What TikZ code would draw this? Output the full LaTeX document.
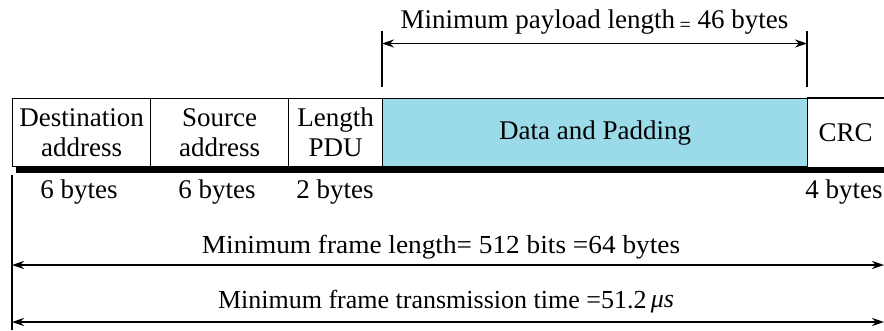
\documentclass[tikz,border=0pt]{standalone}
\usepackage{fontspec}
\setmainfont{Liberation Serif}
\usetikzlibrary{arrows.meta}
\definecolor{payload}{HTML}{9ADAE9}

\tikzset{
  label text/.style={font=\fontsize{27}{30}\selectfont, inner sep=0pt, align=center},
  field/.style={label text, draw, line width=1.3pt, anchor=north west, minimum height=68pt},
  dimline/.style={line width=1.2pt, {Stealth[length=12pt,width=8pt]}-{Stealth[length=12pt,width=8pt]}},
  tick/.style={line width=1.2pt},
}

\begin{document}
\begin{tikzpicture}[x=1pt,y=-1pt]
\useasboundingbox (0,0) rectangle (884,330);

% frame fields
\node[field, minimum width=138pt] (dest) at (12,98) {Destination\\address};
\node[field, minimum width=138pt] (src)  at (150,98) {Source\\address};
\node[field, minimum width=94pt]  (len)  at (288,98) {Length\\PDU};
\node[field, minimum width=425pt, fill=payload] (data) at (382,98) {Data and Padding};
\node[label text, anchor=north west, minimum width=77pt, minimum height=68pt] (crc) at (807,98) {CRC};
\draw[line width=1.3pt] (crc.north west) -- (crc.north east);

% heavy base line under the fields
\coordinate (barL) at (16,169.5);
\coordinate (barR) at (884,169.5);
\draw[line width=6pt] (barL) -- (barR);

% field sizes
\node[label text, anchor=base] (b1) at (79,198) {6 bytes};
\node[label text, anchor=base] (b2) at (217,198) {6 bytes};
\node[label text, anchor=base] (b3) at (335,198) {2 bytes};
\node[label text, anchor=base] (b4) at (844,198) {4 bytes};

% payload dimension
\coordinate (pTopL) at (382,31);
\coordinate (pBotL) at (382,87);
\coordinate (pTopR) at (807,31);
\coordinate (pBotR) at (807,87);
\draw[tick] (pTopL) -- (pBotL);
\draw[tick] (pTopR) -- (pBotR);
\coordinate (pL) at (382,43.5);
\coordinate (pR) at (807,43.5);
\draw[dimline] (pL) -- (pR);
\node[label text, anchor=base] (ptext) at (594.5,28) {Minimum payload length\,{\fontsize{20}{20}\selectfont\raisebox{-3pt}{=}} 46 bytes};

% frame dimensions
\coordinate (fTop) at (12,175);
\coordinate (fBot) at (12,330);
\draw[tick] (fTop) -- (fBot);
\coordinate (f1L) at (12,265);
\coordinate (f1R) at (884,265);
\draw[dimline] (f1L) -- (f1R);
\node[label text, anchor=base, font=\fontsize{26}{30}\selectfont, xscale=1.05] (ftext) at (441,253) {Minimum frame length= 512 bits =64 bytes};
\coordinate (f2L) at (12,322);
\coordinate (f2R) at (884,322);
\draw[dimline] (f2L) -- (f2R);
\node[label text, anchor=base, font=\fontsize{26}{30}\selectfont, xscale=1.0] (ttext) at (446,308) {Minimum frame transmission time =51.2\,\raisebox{1pt}{\itshape μs}};
\end{tikzpicture}
\end{document}
